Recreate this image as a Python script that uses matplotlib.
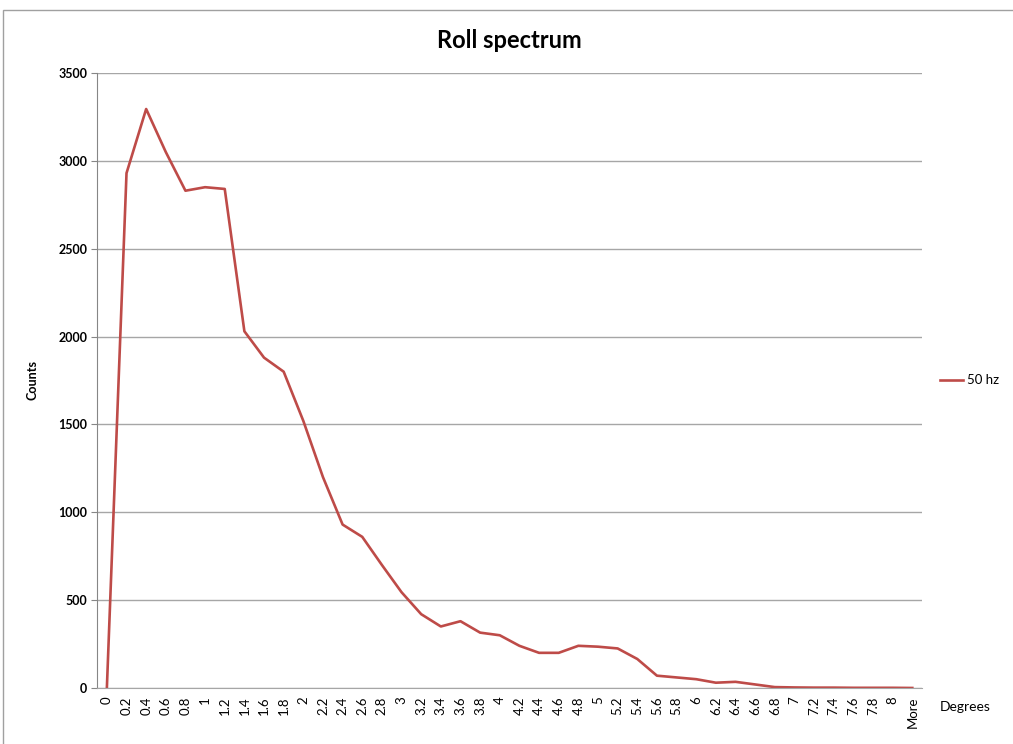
import matplotlib.pyplot as plt

categories = ['0', '0.2', '0.4', '0.6', '0.8', '1', '1.2', '1.4', '1.6', '1.8',
              '2', '2.2', '2.4', '2.6', '2.8', '3', '3.2', '3.4', '3.6', '3.8',
              '4', '4.2', '4.4', '4.6', '4.8', '5', '5.2', '5.4', '5.6', '5.8',
              '6', '6.2', '6.4', '6.6', '6.8', '7', '7.2', '7.4', '7.6', '7.8',
              '8', 'More']
counts_50hz = [0, 2930, 3295, 3050, 2830, 2850, 2840, 2030, 1880, 1800,
               1520, 1200, 930, 860, 700, 545, 420, 350, 380, 315,
               300, 240, 200, 200, 240, 235, 225, 165, 70, 60,
               50, 30, 35, 20, 5, 3, 2, 2, 1, 1,
               1, 0]
yticks = [0, 500, 1000, 1500, 2000, 2500, 3000, 3500]

plt.rcParams['font.family'] = ['Lato', 'DejaVu Sans']

fig = plt.figure(figsize=(10.13, 7.44), dpi=100)
# chart area border
fig.patches.append(plt.Rectangle((0.003, -0.01), 1.1, 0.997, transform=fig.transFigure,
                                 fill=False, edgecolor='#a0a0a0', linewidth=1))
ax = fig.add_axes([0.0958, 0.0753, 0.8145, 0.8266])

x = list(range(len(categories)))
ax.plot(x, counts_50hz, color='#be4b48', linewidth=1.9, label='50 hz')

ax.set_xlim(-0.5, len(categories) - 0.5)
ax.set_ylim(0, 3500)
ax.set_yticks(yticks)
ax.set_yticklabels([str(v) for v in yticks], fontsize=9, fontweight='bold')
ax.set_xticks(x)
ax.set_xticklabels(categories, rotation=90, fontsize=9.5, ha='center', va='top')
ax.tick_params(axis='x', length=0, pad=6)
ax.tick_params(axis='y', length=4, color='#868686', pad=3)
ax.grid(axis='y', color='#a6a6a6', linewidth=1)
ax.set_axisbelow(True)
for s in ['top', 'right']:
    ax.spines[s].set_visible(False)
ax.spines['left'].set_color('#868686')
ax.spines['bottom'].set_color('#a6a6a6')

ax.set_title('Roll spectrum', fontsize=17, fontweight='bold', pad=18)
ax.set_ylabel('Counts', fontsize=9, fontweight='bold', labelpad=14)
fig.text(0.928, 0.045, 'Degrees', fontsize=10)
ax.legend(loc='center left', bbox_to_anchor=(1.022, 0.5), frameon=False,
          fontsize=9.5, handlelength=1.7, handletextpad=0.3,
          borderaxespad=0, borderpad=0)

fig.savefig('out.png', dpi=100)
